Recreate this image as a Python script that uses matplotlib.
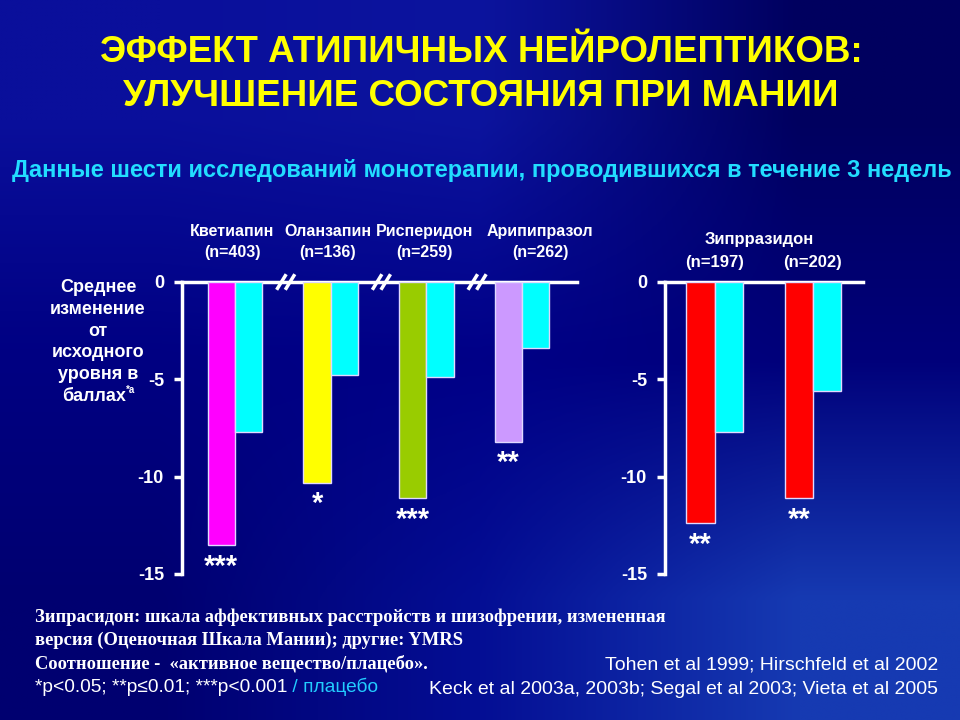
import matplotlib
matplotlib.use("Agg")
import matplotlib.pyplot as plt
import numpy as np

# data
left_drugs = ["Кветиапин", "Оланзапин", "Рисперидон", "Арипипразол"]
left_n = ["(n=403)", "(n=136)", "(n=259)", "(n=262)"]
left_active = [-13.5, -10.3, -11.1, -8.2]
left_placebo = [-7.7, -4.8, -4.9, -3.4]
left_colors = ["#FF00FF", "#FFFF00", "#99CC00", "#CC99FF"]
left_stars = ["***", "*", "***", "**"]

right_drug = "Зипрразидон"
right_n = ["(n=197)", "(n=202)"]
right_active = [-12.4, -11.1]
right_placebo = [-7.7, -5.6]
right_stars = ["**", "**"]

yticks = [0, -5, -10, -15]
ylabel_lines = ["Среднее", "изменение", "от", "исходного", "уровня в", "баллах"]

SANS = ["Liberation Sans", "DejaVu Sans"]
SERIF = ["Liberation Serif", "DejaVu Serif"]
CYAN = "#00FFFF"
BAR_W = 0.285

fig = plt.figure(figsize=(9.6, 7.2), dpi=100)

# background gradient (navy, lighter towards top-left and bottom-right)
bg = fig.add_axes([0, 0, 1, 1])
grid = np.array([
    [[10, 15, 155], [12, 20, 158], [0, 0, 95]],
    [[0, 0, 130], [0, 0, 135], [0, 0, 122]],
    [[0, 0, 112], [4, 14, 148], [22, 58, 178]],
]) / 255.0
bg.imshow(grid, extent=[0, 960, 720, 0], interpolation="bilinear", aspect="auto")
bg.set_xlim(0, 960)
bg.set_ylim(720, 0)
bg.axis("off")


def px(x, y):
    return x / 960, 1 - y / 720


def style_axes(ax):
    ax.set_facecolor("none")
    ax.set_ylim(-15, 0)
    for side in ["bottom", "right"]:
        ax.spines[side].set_visible(False)
    for side in ["top", "left"]:
        ax.spines[side].set_color("white")
        ax.spines[side].set_linewidth(2.5)
    ax.set_xticks([])
    ax.set_yticks(yticks)
    ax.set_yticklabels([str(t) for t in yticks], color="white",
                       fontsize=13, fontweight="bold", family=SANS)
    ax.tick_params(axis="y", colors="white", length=6, width=2.5, pad=7)


def draw_pairs(ax, active, placebo, colors, stars):
    x = np.arange(len(active))
    ax.bar(x - BAR_W / 2, active, BAR_W, color=colors,
           edgecolor="#E0D8FF", linewidth=1, zorder=3)
    ax.bar(x + BAR_W / 2, placebo, BAR_W, color=CYAN,
           edgecolor="#E0D8FF", linewidth=1, zorder=3)
    for i, (v, s) in enumerate(zip(active, stars)):
        ax.text(i - BAR_W / 2, v - 0.4, s, color="white", fontsize=21,
                fontweight="bold", ha="center", va="top", family=SANS)


# left panel
axl = fig.add_axes([182 / 960, 146 / 720, 395 / 960, 292 / 720])
style_axes(axl)
axl.set_xlim(-0.554, 3.574)
draw_pairs(axl, left_active, left_placebo, left_colors, left_stars)
label_shift = [-0.03, -0.03, -0.02, 0.19]
for i, (name, n) in enumerate(zip(left_drugs, left_n)):
    axl.text(i + label_shift[i], 2.57, name, color="white", fontsize=11.5,
             fontweight="bold", ha="center", va="center", family=SANS, clip_on=False)
    axl.text(i + label_shift[i], 1.54, n, color="white", fontsize=11.5,
             fontweight="bold", ha="center", va="center", family=SANS, clip_on=False)
# axis break marks
for i in range(3):
    xb = i + 0.53
    for off in [-0.045, 0.045]:
        axl.plot([xb + off - 0.05, xb + off + 0.05], [-0.4, 0.4], color="white",
                 lw=2.5, clip_on=False, zorder=5, solid_capstyle="butt")

# right panel
axr = fig.add_axes([665 / 960, 146 / 720, 198 / 960, 292 / 720])
style_axes(axr)
axr.set_xlim(-0.503, 1.508)
draw_pairs(axr, right_active, right_placebo, ["#FF0000"] * 2, right_stars)
axr.text(0.45, 2.16, right_drug, color="white", fontsize=12, fontweight="bold",
         ha="center", va="center", family=SANS, clip_on=False)
for i, n in enumerate(right_n):
    axr.text(i, 0.98, n, color="white", fontsize=12, fontweight="bold",
             ha="center", va="center", family=SANS, clip_on=False)

# y label
last = None
for k, line in enumerate(ylabel_lines):
    x0 = 94 if k == len(ylabel_lines) - 1 else 98
    last = fig.text(*px(x0, 288 + 21.6 * k), line, color="white", fontsize=13,
                    fontweight="bold", ha="center", va="center", family=SANS)
bg.annotate("*a", xy=(1, 0.55), xycoords=last, color="white", fontsize=7,
            fontweight="bold", ha="left", va="bottom", family=SANS)

# titles
fig.text(*px(481, 52), "ЭФФЕКТ АТИПИЧНЫХ НЕЙРОЛЕПТИКОВ:", color="#FFFF00",
         fontsize=26.5, fontweight="bold", ha="center", va="center", family=SANS)
fig.text(*px(481, 97), "УЛУЧШЕНИЕ СОСТОЯНИЯ ПРИ МАНИИ", color="#FFFF00",
         fontsize=26.5, fontweight="bold", ha="center", va="center", family=SANS)
fig.text(*px(12, 170),
         "Данные шести исследований монотерапии, проводившихся в течение 3 недель",
         color="#22DDFF", fontsize=17, fontweight="bold", ha="left", va="center",
         family=SANS)

# footnotes
notes = [
    "Зипрасидон: шкала аффективных расстройств и шизофрении, измененная",
    "версия (Оценочная Шкала Мании); другие: YMRS",
    "Соотношение -  «активное вещество/плацебо».",
]
for k, line in enumerate(notes):
    fig.text(*px(35, 617 + 23.5 * k), line, color="white", fontsize=13.3,
             fontweight="bold", ha="left", va="center", family=SERIF)
t_p = fig.text(*px(35, 688), "*p<0.05; **p≤0.01; ***p<0.001", color="white",
               fontsize=13.8, ha="left", va="center", family=SANS)
bg.annotate(" / плацебо", xy=(1, 0), xycoords=t_p, color="#22CCFF",
            fontsize=13.8, ha="left", va="bottom", family=SANS)

fig.text(*px(938, 665), "Tohen et al 1999; Hirschfeld et al 2002", color="white",
         fontsize=14, ha="right", va="center", family=SANS)
fig.text(*px(938, 689), "Keck et al 2003a, 2003b; Segal et al 2003; Vieta et al 2005",
         color="white", fontsize=14, ha="right", va="center", family=SANS)

fig.savefig("out.png", dpi=100)
